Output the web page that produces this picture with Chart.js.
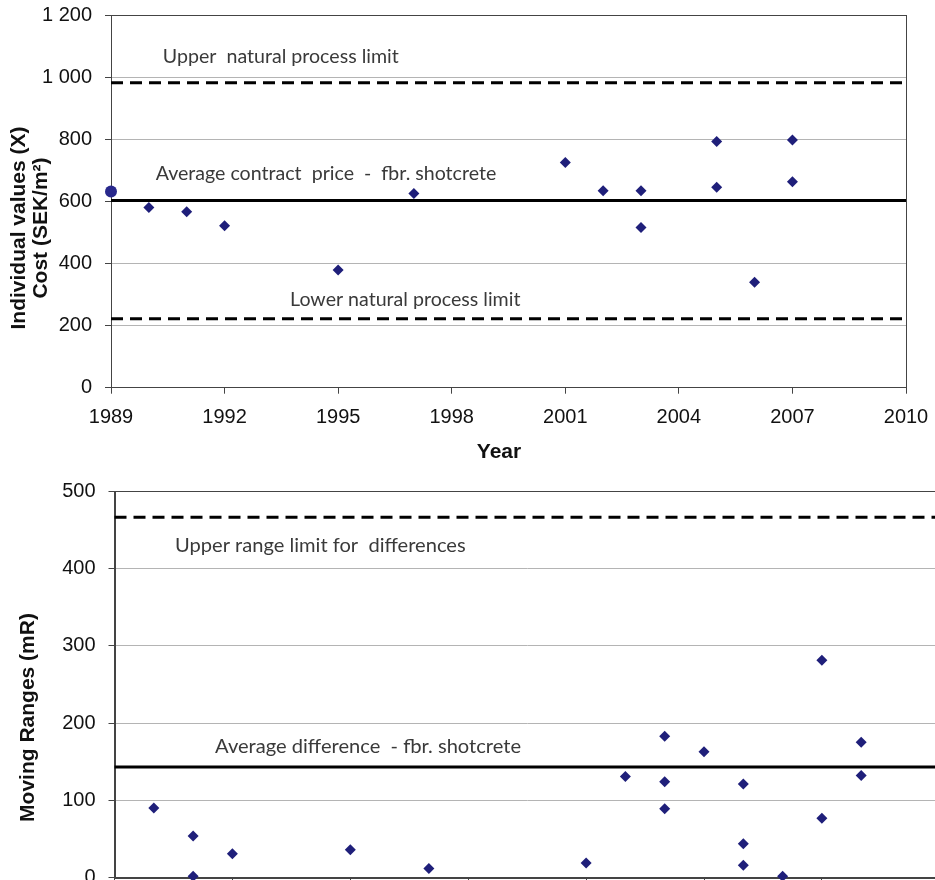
<!DOCTYPE html>
<html>
<head>
<meta charset="utf-8">
<title>Fibre shotcrete cost - XmR chart</title>
<script src="https://cdn.jsdelivr.net/npm/chart.js@4.4.1/dist/chart.umd.min.js"></script>
<style>
  html, body { margin: 0; padding: 0; background: #fff; overflow: hidden; }
  #page { position: relative; width: 935px; height: 880px; overflow: hidden; }
  #topChart { position: absolute; left: 0; top: 0; }
  #bottomChart { position: absolute; left: 0; top: 470px; }
</style>
</head>
<body>
<div id="page">
  <canvas id="topChart" width="935" height="470"></canvas>
  <canvas id="bottomChart" width="960" height="470"></canvas>
</div>
<script>
// Individual values (X)
const firstYear = [1989];
const firstCost = [632];
const costYears = [1990, 1991, 1992, 1995, 1997, 2001, 2002, 2003, 2003, 2005, 2005, 2006, 2007, 2007];
const costValues = [581, 567, 522, 379, 626, 726, 635, 635, 516, 793, 646, 340, 798, 664];
const upperNaturalLimit = 983;
const averageCost = 603;
const lowerNaturalLimit = 222;

// Moving ranges (mR)
const rangeYears = [1990, 1991, 1991, 1992, 1995, 1997, 2001, 2002, 2003, 2003, 2003, 2004, 2005, 2005, 2005, 2006, 2007, 2007, 2008, 2008];
const rangeValues = [90, 54, 2, 31, 36, 12, 19, 131, 183, 124, 89, 163, 121, 44, 16, 2, 281, 77, 175, 132];
const upperRangeLimit = 466;
const averageRange = 143;

// axes
const yearSpan = [1989, 2010];
const yearTicks = [1989, 1992, 1995, 1998, 2001, 2004, 2007, 2010];
const costTicks = [0, 200, 400, 600, 800, 1000, 1200];
const rangeTicks = [0, 100, 200, 300, 400, 500];

const MARK = "#1f1f7a";
const AXIS = "#444444";
const GRID = "#b4b4b4";
const TICK_FONT = { family: "'Liberation Sans', Arial, sans-serif", size: 20 };
const TITLE_FONT = "bold 21px 'Liberation Sans', Arial, sans-serif";

const points = (xs, ys) => xs.map((x, i) => ({ x: x, y: ys[i] }));
const hline = (v) => yearSpan.map((x) => ({ x: x, y: v }));
const spaced = (v) => String(v).replace(/\B(?=(\d{3})+(?!\d))/g, " ");

// box round the plot area
const framePlugin = {
  id: "frame",
  beforeDatasetsDraw(chart) {
    const a = chart.chartArea;
    const ctx = chart.ctx;
    ctx.save();
    ctx.strokeStyle = AXIS;
    ctx.lineWidth = 1;
    ctx.strokeRect(Math.round(a.left) + 0.5, Math.round(a.top) + 0.5,
      Math.round(a.right - a.left), Math.round(a.bottom - a.top));
    ctx.restore();
  },
};

// line labels and axis titles
const textPlugin = {
  id: "texts",
  afterDraw(chart, args, opts) {
    const ctx = chart.ctx;
    const xs = chart.scales.x;
    const ys = chart.scales.y;
    ctx.save();
    (opts.notes || []).forEach((n) => {
      ctx.font = opts.noteFont;
      ctx.fillStyle = "#3a3a3a";
      ctx.textAlign = "left";
      ctx.textBaseline = "middle";
      ctx.fillText(n.text, xs.getPixelForValue(n.x), ys.getPixelForValue(n.y));
    });
    (opts.titles || []).forEach((t) => {
      ctx.save();
      ctx.translate(t.px, t.py);
      if (t.rotate) ctx.rotate(-Math.PI / 2);
      ctx.font = TITLE_FONT;
      ctx.fillStyle = "#111";
      ctx.textAlign = "center";
      ctx.textBaseline = "middle";
      ctx.fillText(t.text, 0, 0);
      ctx.restore();
    });
    ctx.restore();
  },
};

function limitLine(value, dashed) {
  return {
    type: "line",
    data: hline(value),
    borderColor: "#000",
    borderWidth: 3,
    borderDash: dashed ? [12, 7] : [],
    pointRadius: 0,
    clip: false,
  };
}

function makeChart(id, cfg) {
  return new Chart(document.getElementById(id), {
    type: "scatter",
    data: { datasets: cfg.datasets },
    options: {
      responsive: false,
      animation: false,
      layout: { padding: cfg.padding },
      plugins: {
        legend: { display: false },
        tooltip: { enabled: false },
        texts: { notes: cfg.notes, titles: cfg.titles, noteFont: cfg.noteFont },
      },
      scales: {
        x: {
          type: "linear",
          min: yearSpan[0],
          max: yearSpan[1],
          afterBuildTicks: (s) => { s.ticks = yearTicks.map((v) => ({ value: v })); },
          afterFit: (s) => { s.height = cfg.xHeight; s.paddingLeft = 0; s.paddingRight = 0; },
          grid: { drawOnChartArea: false, tickLength: 6, tickColor: AXIS },
          border: { color: AXIS },
          ticks: { autoSkip: false, maxRotation: 0, padding: 12, color: "#111", font: TICK_FONT, callback: (v) => String(v) },
        },
        y: {
          min: cfg.yTicks[0],
          max: cfg.yTicks[cfg.yTicks.length - 1],
          afterBuildTicks: (s) => { s.ticks = cfg.yTicks.map((v) => ({ value: v })); },
          afterFit: (s) => { s.width = cfg.yWidth; s.paddingTop = 0; s.paddingBottom = 0; },
          grid: { color: GRID, tickLength: 6, tickColor: AXIS },
          border: { color: AXIS },
          ticks: { padding: 13, color: "#111", font: TICK_FONT, callback: (v) => spaced(v) },
        },
      },
    },
    plugins: [framePlugin, textPlugin],
  });
}

makeChart("topChart", {
  padding: { top: 15.3, right: 29, bottom: 0, left: 0 },
  yWidth: 111,
  xHeight: 82.3,
  yTicks: costTicks,
  noteFont: "19.6px Lato, 'Open Sans', sans-serif",
  datasets: [
    { data: points(firstYear, firstCost), pointStyle: "circle", pointRadius: 6, backgroundColor: "#28288c", borderWidth: 0, clip: false },
    { data: points(costYears, costValues), pointStyle: "rectRot", pointRadius: 5.5, backgroundColor: MARK, borderWidth: 0, clip: false },
    limitLine(upperNaturalLimit, true),
    limitLine(averageCost, false),
    limitLine(lowerNaturalLimit, true),
  ],
  notes: [
    { text: "Upper  natural process limit", x: 1990.37, y: 1066 },
    { text: "Average contract  price  -  fbr. shotcrete", x: 1990.18, y: 691 },
    { text: "Lower natural process limit", x: 1993.73, y: 285 },
  ],
  titles: [
    { text: "Individual values (X)", px: 19, py: 228, rotate: true },
    { text: "Cost (SEK/m\u00B2)", px: 41, py: 228, rotate: true },
    { text: "Year", px: 499, py: 452 },
  ],
});

makeChart("bottomChart", {
  padding: { top: 21, right: 20.2, bottom: 0, left: 0 },
  yWidth: 114.5,
  xHeight: 62.3,
  yTicks: rangeTicks,
  noteFont: "20.1px Lato, 'Open Sans', sans-serif",
  datasets: [
    { data: points(rangeYears, rangeValues), pointStyle: "rectRot", pointRadius: 5.5, backgroundColor: MARK, borderWidth: 0, clip: false },
    limitLine(upperRangeLimit, true),
    limitLine(averageRange, false),
  ],
  notes: [
    { text: "Upper range limit for  differences", x: 1990.54, y: 430 },
    { text: "Average difference  - fbr. shotcrete", x: 1991.56, y: 169 },
  ],
  titles: [
    { text: "Moving Ranges (mR)", px: 28, py: 247.5, rotate: true },
  ],
});
</script>
</body>
</html>
